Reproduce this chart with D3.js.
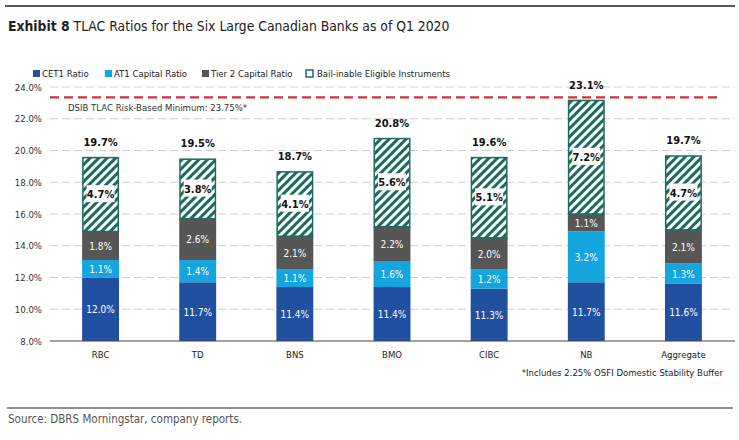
<!DOCTYPE html>
<html>
<head>
<meta charset="utf-8">
<script src="https://cdn.jsdelivr.net/npm/d3@7"></script>
<style>
  body { margin: 0; background: #fff; }
  text { font-family: "DejaVu Sans Condensed", "Roboto", sans-serif; }
</style>
</head>
<body>
<script>
var svgW = 739;
var svgH = 440;

// data
var banks = ["RBC", "TD", "BNS", "BMO", "CIBC", "NB", "Aggregate"];
var cet1 = [12.0, 11.7, 11.4, 11.4, 11.3, 11.7, 11.6];
var at1 = [1.1, 1.4, 1.1, 1.6, 1.2, 3.2, 1.3];
var tier2 = [1.8, 2.6, 2.1, 2.2, 2.0, 1.1, 2.1];
var bailin = [4.7, 3.8, 4.1, 5.6, 5.1, 7.2, 4.7];
var totals = [19.7, 19.5, 18.7, 20.8, 19.6, 23.1, 19.7];
var seriesNames = ["CET1 Ratio", "AT1 Capital Ratio", "Tier 2 Capital Ratio", "Bail-inable Eligible Instruments"];
var yTicks = [8, 10, 12, 14, 16, 18, 20, 22, 24];
var minLine = 23.35;

var colors = ["#2150a0", "#14a4de", "#565656", "url(#hatch)"];
var teal = "#1d6b5f";

var svg = d3.select("body")
  .append("svg")
  .attr("width", svgW)
  .attr("height", svgH);

var defs = svg.append("defs");
var pat = defs.append("pattern")
  .attr("id", "hatch")
  .attr("patternUnits", "userSpaceOnUse")
  .attr("width", 6)
  .attr("height", 6)
  .attr("patternTransform", "rotate(45)");
pat.append("rect").attr("width", 6).attr("height", 6).attr("fill", "#fff");
pat.append("rect").attr("width", 3).attr("height", 6).attr("fill", teal);

// top rule + title
svg.append("line").attr("x1", 5).attr("x2", 735).attr("y1", 6).attr("y2", 6)
  .attr("stroke", "#222").attr("stroke-width", 1.5);
var title = svg.append("text").attr("x", 8).attr("y", 31)
  .attr("font-size", 13.8).attr("fill", "#222");
title.append("tspan").attr("font-weight", "bold").text("Exhibit 8");
title.append("tspan").text(" TLAC Ratios for the Six Large Canadian Banks as of Q1 2020");

// scales
var x = d3.scaleBand().domain(banks).range([52, 732]).paddingInner(0.62).paddingOuter(0.31);
var y = d3.scaleLinear().domain([8, 24]).range([341, 87]);

// gridlines
svg.append("g").selectAll("line")
  .data(yTicks.slice(1))
  .enter().append("line")
  .attr("x1", 50).attr("x2", 735)
  .attr("y1", function (d) { return y(d); })
  .attr("y2", function (d) { return y(d); })
  .attr("stroke", "#cfcfcf")
  .attr("stroke-dasharray", "8,4");

// y axis labels
var yAxis = d3.axisLeft(y).tickValues(yTicks)
  .tickFormat(function (d) { return d.toFixed(1) + "%"; })
  .tickSize(0).tickPadding(0);
var yg = svg.append("g").attr("transform", "translate(42,0)").call(yAxis);
yg.select(".domain").remove();
yg.selectAll("text").attr("font-size", 9.5).attr("fill", "#333")
  .style("font-family", "'DejaVu Sans Condensed', sans-serif");

// stacks
var rows = banks.map(function (b, i) {
  return { bank: b, vals: [cet1[i], at1[i], tier2[i], bailin[i]], total: totals[i] };
});

var barG = svg.append("g");
rows.forEach(function (r) {
  var cum = 0;
  r.vals.forEach(function (v, k) {
    var y0 = k === 0 ? 8 : cum;
    var y1 = cum + v;
    var rect = barG.append("rect")
      .attr("x", x(r.bank))
      .attr("width", x.bandwidth())
      .attr("y", y(y1))
      .attr("height", y(y0) - y(y1))
      .attr("fill", colors[k]);
    if (k === 3) {
      rect.attr("stroke", teal).attr("stroke-width", 1.5)
        .attr("x", x(r.bank) + 0.75).attr("width", x.bandwidth() - 1.5)
        .attr("y", y(y1) + 0.75).attr("height", y(y0) - y(y1) - 0.75);
    }
    var cy = (y(y0) + y(y1)) / 2;
    var cx = x(r.bank) + x.bandwidth() / 2;
    var label = v.toFixed(1) + "%";
    if (k < 3) {
      barG.append("text").attr("x", cx).attr("y", cy + 4)
        .attr("text-anchor", "middle").attr("font-size", 10).attr("fill", "#fff")
        .text(label);
    } else {
      barG.append("rect").attr("x", cx - 14).attr("y", cy - 9)
        .attr("width", 28).attr("height", 17).attr("fill", "#fff");
      barG.append("text").attr("x", cx).attr("y", cy + 4)
        .attr("text-anchor", "middle").attr("font-size", 11).attr("font-weight", "bold")
        .attr("fill", "#111").text(label);
    }
    cum = y1;
  });
  barG.append("text")
    .attr("x", x(r.bank) + x.bandwidth() / 2)
    .attr("y", y(cum) - 11)
    .attr("text-anchor", "middle").attr("font-size", 11).attr("font-weight", "bold")
    .attr("fill", "#111").text(r.total.toFixed(1) + "%");
});

// x axis
var xAxis = d3.axisBottom(x).tickSize(0).tickPadding(10);
var xg = svg.append("g").attr("transform", "translate(0," + y(8) + ")").call(xAxis);
xg.select(".domain").attr("d", "M50,0H735").attr("stroke", "#444").attr("stroke-width", 1.2);
xg.selectAll("text").attr("font-size", 9.5).attr("fill", "#222")
  .style("font-family", "'DejaVu Sans Condensed', sans-serif");

// minimum line
svg.append("line")
  .attr("x1", 50).attr("x2", 718)
  .attr("y1", y(minLine)).attr("y2", y(minLine))
  .attr("stroke", "#d62d3c").attr("stroke-width", 2.2)
  .attr("stroke-dasharray", "9,5");
svg.append("text").attr("x", 68).attr("y", y(minLine) + 14)
  .attr("font-size", 9.5).attr("fill", "#333")
  .text("DSIB TLAC Risk-Based Minimum: 23.75%*");

// legend
var legX = [33, 105, 202, 306];
var leg = svg.append("g");
seriesNames.forEach(function (n, k) {
  leg.append("rect").attr("x", legX[k]).attr("y", 70).attr("width", 7).attr("height", 7)
    .attr("fill", k === 3 ? "#fff" : colors[k])
    .attr("stroke", k === 3 ? teal : "none").attr("stroke-width", 1.5);
  leg.append("text").attr("x", legX[k] + (k === 3 ? 11 : 9)).attr("y", 77)
    .attr("font-size", 9.5).attr("fill", "#222").text(n);
});

// footnote, rule, source
svg.append("text").attr("x", 723).attr("y", 376).attr("text-anchor", "end")
  .attr("font-size", 9.5).attr("fill", "#222")
  .text("*Includes 2.25% OSFI Domestic Stability Buffer");
svg.append("line").attr("x1", 7).attr("x2", 733).attr("y1", 408).attr("y2", 408)
  .attr("stroke", "#222").attr("stroke-width", 1.2);
svg.append("text").attr("x", 8).attr("y", 423)
  .attr("font-size", 11.5).attr("fill", "#555")
  .text("Source: DBRS Morningstar, company reports.");
</script>
</body>
</html>
